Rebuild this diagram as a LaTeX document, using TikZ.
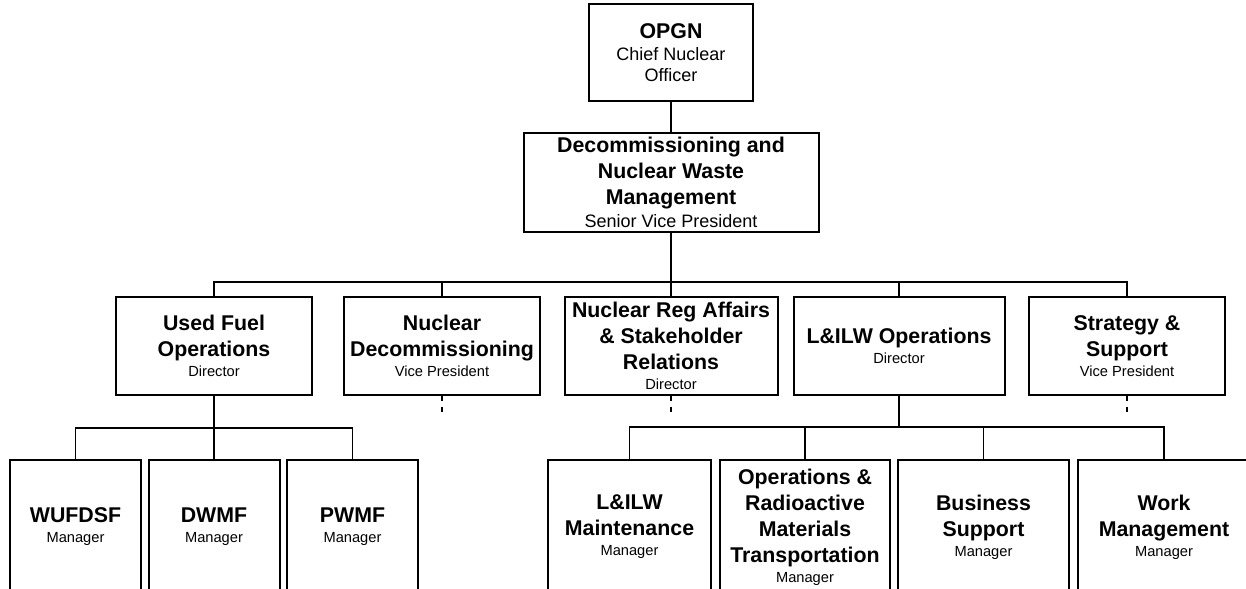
\documentclass[tikz,border=0pt]{standalone}
\usepackage{fontspec}
\setmainfont{Liberation Sans}
\usepackage{tikz}
\newcommand{\hdfont}{\fontsize{16}{19.5}\selectfont\bfseries}
\newcommand{\rolebig}[1]{{\fontsize{13.5}{16}\selectfont\mdseries #1}}
\newcommand{\rolesmall}[1]{{\fontsize{11}{13}\selectfont\mdseries #1}}
\tikzset{
 post/.style = {rectangle, draw, line width=1.5pt, align=center,
           inner sep=0pt, font=\hdfont},
 link/.style = {line width=1.3pt},
 stub/.style = {line width=1.3pt, dash pattern=on 3.75pt off 4.5pt}
}

\begin{document}
\begin{tikzpicture}[x=0.75pt, y=-0.75pt]
  \useasboundingbox (0,0) rectangle (1246,589);
  \clip (0,0) rectangle (1246,589);

  % Layer 0
  \node[post, minimum width=123pt, minimum height=72.75pt] (opgn) at (671,52.5)
  {OPGN\\[-3pt]
    \rolebig{Chief Nuclear}\\[-3.75pt]
    \rolebig{Officer}};

  % Layer 1
  \node[post, minimum width=221.25pt, minimum height=74.25pt] (dnwm) at (671,182.5)
  {Decommissioning and\\
    Nuclear Waste\\
    Management\\[-2.5pt]
    \rolebig{Senior Vice President}};

  % Layer 2
  \node[post, minimum width=147pt, minimum height=73.5pt] (ufo) at (214,346)
  {Used Fuel\\
    Operations\\[-4.5pt]
    \rolesmall{Director}};
  \node[post, minimum width=147pt, minimum height=73.5pt] (ndec) at (442,346)
  {Nuclear\\
    Decommissioning\\[-4.5pt]
    \rolesmall{Vice President}};
  \node[post, minimum width=159.75pt, minimum height=73.5pt] (nreg) at (671,346)
  {Nuclear Reg Affairs\\
    \& Stakeholder\\
    Relations\\[-4.5pt]
    \rolesmall{Director}};
  \node[post, minimum width=158.25pt, minimum height=73.5pt] (lops) at (899,346)
  {L\&ILW Operations\\[-4.5pt]
    \rolesmall{Director}};
  \node[post, minimum width=147pt, minimum height=73.5pt] (strat) at (1127,346)
  {Strategy \&\\
    Support\\[-4.5pt]
    \rolesmall{Vice President}};

  % Layer 3
  \node[post, minimum width=98.25pt, minimum height=100.5pt] (wufdsf) at (75.5,527)
  {WUFDSF\\[-4.5pt]
    \rolesmall{Manager}};
  \node[post, minimum width=98.25pt, minimum height=100.5pt] (dwmf) at (214,527)
  {DWMF\\[-4.5pt]
    \rolesmall{Manager}};
  \node[post, minimum width=98.25pt, minimum height=100.5pt] (pwmf) at (352.5,527)
  {PWMF\\[-4.5pt]
    \rolesmall{Manager}};

  \node[post, minimum width=122.25pt, minimum height=100.5pt] (maint) at (629.5,527)
  {L\&ILW\\
    Maintenance\\[-4.5pt]
    \rolesmall{Manager}};
  \node[post, minimum width=127.5pt, minimum height=100.5pt] (opsrad) at (805,527)
  {Operations \&\\
    Radioactive\\
    Materials\\
    Transportation\\[-4.5pt]
    \rolesmall{Manager}};
  \node[post, minimum width=128.25pt, minimum height=100.5pt] (busi) at (983.5,527)
  {Business\\
    Support\\[-4.5pt]
    \rolesmall{Manager}};
  \node[post, minimum width=129pt, minimum height=100.5pt] (work) at (1164,527)
  {Work\\
    Management\\[-4.5pt]
    \rolesmall{Manager}};

  % Connectors
  \coordinate (bus1) at (671,282);
  \coordinate (ufobus) at (214,428);
  \coordinate (lopsbus) at (899,427);

  \draw[link] (opgn) -- (dnwm);
  \draw[link] (dnwm) -- (nreg);
  \draw[link] (ufo.north) |- (bus1) -| (strat.north);
  \draw[link] (ndec.north) |- (bus1);
  \draw[link] (lops.north) |- (bus1);

  \draw[link] (ufo.south) -- (ufobus);
  \draw[link] (wufdsf.north) |- (ufobus) -| (pwmf.north);
  \draw[link] (dwmf.north) -- (ufobus);

  \draw[link] (lops.south) -- (lopsbus);
  \draw[link] (maint.north) |- (lopsbus) -| (work.north);
  \draw[link] (opsrad.north) |- (lopsbus);
  \draw[link] (busi.north) |- (lopsbus);

  % Dashed stubs
  \coordinate (ndecend) at (442,412);
  \coordinate (nregend) at (671,412);
  \coordinate (stratend) at (1127,412);
  \draw[stub] (ndec.south) -- (ndecend);
  \draw[stub] (nreg.south) -- (nregend);
  \draw[stub] (strat.south) -- (stratend);
\end{tikzpicture}
\end{document}
